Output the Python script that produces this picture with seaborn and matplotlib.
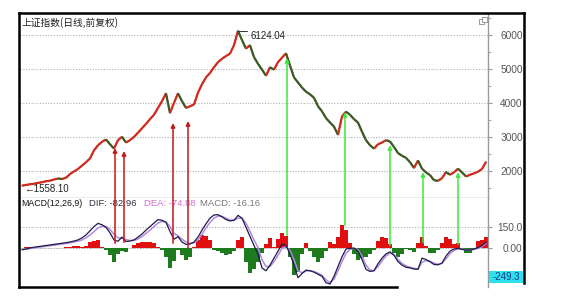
import matplotlib
matplotlib.use("Agg")
import matplotlib.pyplot as plt
import seaborn as sns
import numpy as np
import pandas as pd
from matplotlib.collections import LineCollection
from matplotlib.patches import Rectangle, ConnectionPatch
from matplotlib.ticker import MultipleLocator
from matplotlib.lines import Line2D

sns.set_theme(style="white")
plt.rcParams['font.family'] = ['Liberation Sans', 'DejaVu Sans', 'Noto Sans CJK SC']

# ---------------- data ----------------
title = "上证指数(日线,前复权)"
price = [1558.1, 1580, 1600, 1615, 1640, 1660, 1690, 1705, 1740, 1770,
         1755, 1790, 1900, 1980, 2050, 2150, 2250, 2360, 2600, 2750,
         2850, 2920, 2780, 2650, 2900, 3000, 2830, 2900, 3000, 3120,
         3250, 3380, 3520, 3650, 3850, 4050, 4280, 3700, 4000, 4280,
         4050, 3850, 3900, 3950, 4300, 4550, 4750, 4880, 5050, 5200,
         5300, 5380, 5450, 5700, 6124.04, 5850, 5600, 5700, 5350, 5150,
         4980, 4800, 5050, 4980, 5200, 5330, 5460, 5100, 4750, 4600,
         4450, 4330, 4250, 4150, 3900, 3750, 3550, 3420, 3300, 3060,
         3600, 3740, 3650, 3520, 3420, 3150, 2900, 2750, 2650, 2780,
         2830, 2900, 2860, 2700, 2520, 2440, 2380, 2250, 2080, 2300,
         2060, 1950, 1870, 1720, 1700, 1780, 1960, 1880, 1950, 2060,
         1950, 1830, 1880, 1920, 1970, 2050, 2260]
dif = [-10, -5, 3, 8, 12, 16, 20, 24, 28, 32,
       36, 40, 45, 52, 60, 75, 95, 125, 155, 178,
       168, 150, 110, 60, 50, 80, 48, 52, 60, 80,
       102, 130, 155, 180, 205, 200, 185, 120, 65, 83,
       45, 28, 30, 45, 80, 130, 175, 215, 238, 240,
       225, 205, 195, 200, 235, 215, 150, 85, 20, -40,
       -140, -160, -120, -70, -20, 30, 20, -40, -120, -210,
       -180, -155, -160, -170, -185, -200, -245, -255, -200, -130,
       -60, -5, 0, 2, -20, -80, -150, -165, -160, -110,
       -70, -40, -25, -50, -95, -120, -135, -140, -148, -150,
       -70, -80, -96, -115, -118, -105, -55, -20, -5, 0,
       -8, -12, -12, -5, 5, 20, 45]
dea = [-8, -6, -2, 3, 7, 11, 15, 19, 23, 27,
       31, 35, 39, 45, 51, 60, 75, 95, 120, 145,
       158, 155, 135, 100, 75, 72, 62, 56, 56, 66,
       84, 106, 130, 155, 180, 192, 188, 155, 105, 90,
       65, 45, 36, 38, 60, 100, 145, 185, 215, 230,
       228, 215, 202, 200, 215, 215, 180, 120, 60, 5,
       -80, -130, -130, -95, -50, 0, 12, -15, -80, -160,
       -175, -162, -160, -165, -178, -192, -225, -245, -220, -160,
       -95, -35, -8, 0, -10, -55, -120, -155, -160, -130,
       -90, -55, -35, -42, -80, -108, -125, -135, -143, -148,
       -100, -88, -92, -106, -114, -108, -75, -38, -15, -4,
       -6, -10, -11, -8, 0, 12, 35]
hist = [5, 8, 6, 4, 3, 2, 0, 2, 3, 2,
        4, 6, 8, 14, 15, 12, 20, 45, 55, 59,
        10, -10, -50, -96, -40, -20, -24, 5, 25, 40,
        47, 45, 47, 40, 10, -10, -60, -143, -90, -10,
        -50, -83, -60, 10, 60, 95, 90, 60, -10, -20,
        -30, -48, -40, -20, 60, 83, -100, -178, -150, -100,
        -30, 30, 71, 10, 70, 107, 90, -60, -190, -170,
        -40, 41, -20, -60, -96, -70, -20, 47, 30, 80,
        166, 130, 40, -40, -83, -70, -60, -40, -10, 50,
        83, 71, 30, -30, -60, -40, -5, -10, -24, 40,
        83, 20, -36, -30, -10, 40, 83, 70, 30, 36,
        -10, -36, -30, -5, 50, 60, 83]
price_ticks = [2000, 3000, 4000, 5000, 6000]
macd_ticks = [0, 150]
macd_tick_labels = ["0.00", "150.0"]
low_label = "1558.10"
peak_label = "6124.04"
macd_title = "MACD(12,26,9)"
dif_label = "DIF: -82.96"
dea_label = "DEA: -74.88"
macd_label = "MACD: -16.16"
cursor_label = "-249.3"
# divergence arrows: (time index, price at tip, MACD at base)
red_idx = [23.25, 25.5, 37.75, 41.5]
red_top = [2667, 2578, 3404, 3463]
red_base = [36, 43, 36, 0]
green_idx = [66.25, 80.75, 92, 100.25, 109]
green_top = [5322, 3729, 2755, 1958, 1958]
green_base = [93, 164, 21, 40, 30]

# ---------------- figure ----------------
W, H = 565, 299
fig = plt.figure(figsize=(W / 100, H / 100), dpi=100)
fig.patch.set_facecolor("white")

def fx(px):
    return px / W

def fy(py):
    return 1 - py / H

ax1 = fig.add_axes([fx(20), fy(198), fx(488) - fx(20), fy(13) - fy(198)])
ax2 = fig.add_axes([fx(20), fy(287), fx(488) - fx(20), fy(198) - fy(287)])

idx = np.arange(len(price))
df = pd.DataFrame({"t": idx, "price": price, "dif": dif, "dea": dea, "hist": hist})

# price line (up red / down dark green)
sns.lineplot(data=df, x="t", y="price", ax=ax1, color="#4a5a2a", lw=1.0, zorder=2)
pts = np.column_stack([idx, price])
segs = np.stack([pts[:-1], pts[1:]], axis=1)
cols = ["#d42a1e" if price[i + 1] >= price[i] else "#3c5a23" for i in range(len(price) - 1)]
ax1.add_collection(LineCollection(segs, colors=cols, linewidths=1.6, zorder=3))

ax1.set_xlim(-0.5, len(price) - 0.5)
ax1.set_ylim(1195, 6649)
ax1.set_yticks(price_ticks)
ax1.set_yticklabels([str(t) for t in price_ticks])
ax1.yaxis.tick_right()
ax1.yaxis.set_minor_locator(MultipleLocator(500))
ax1.tick_params(axis="y", which="major", length=3, width=0.8, color="#999999", pad=22,
                labelsize=7.3, labelcolor="#555555", right=True, left=False)
ax1.tick_params(axis="y", which="minor", length=2, width=0.6, color="#999999", right=True, left=False)
for lbl in ax1.get_yticklabels():
    lbl.set_horizontalalignment("right")
ax1.set_xticks([])
ax1.set_xlabel("")
ax1.set_ylabel("")
ax1.grid(axis="y", which="major", linestyle=(0, (1, 1.5)), color="#b0b0b0", lw=0.8)
ax1.grid(axis="x", visible=False)
for s in ["left", "top"]:
    ax1.spines[s].set_visible(False)
for s in ["right", "bottom"]:
    ax1.spines[s].set_color("#999999")
    ax1.spines[s].set_linewidth(1.0)

ax1.text(0.004, 0.951, title, transform=ax1.transAxes, fontsize=7, ha="left", va="center",
         color="#222222", family=["Noto Sans CJK SC", "DejaVu Sans"])

pk = int(np.argmax(price))
ax1.annotate(peak_label, xy=(pk, price[pk]), xytext=(9, -4), textcoords="offset points",
             fontsize=7, ha="left", va="center", color="#222222",
             arrowprops=dict(arrowstyle="-", color="#333333", lw=0.7, shrinkA=0, shrinkB=0,
                             connectionstyle="angle,angleA=90,angleB=0,rad=0"))
ax1.annotate("\u2190" + low_label, xy=(0, price[0]), xytext=(1.5, -2.5), textcoords="offset points",
             fontsize=7, ha="left", va="center", color="#222222",
             family=["Liberation Sans", "DejaVu Sans"])

# MACD panel
ax2.axhline(0, color="#b0b0b0", lw=0.6, linestyle=(0, (1, 1.5)), zorder=1)
bar_cols = ["#e01010" if h >= 0 else "#1d7a1d" for h in hist]
ax2.bar(idx, hist, width=1.02, color=bar_cols, linewidth=0, zorder=2)
sns.lineplot(data=df, x="t", y="dea", ax=ax2, color="#b487e0", lw=1.1, zorder=3)
sns.lineplot(data=df, x="t", y="dif", ax=ax2, color="#1c1c4a", lw=0.9, zorder=4)
ax2.set_xlim(-0.5, len(price) - 0.5)
ax2.set_ylim(-276, 359)
ax2.set_yticks(macd_ticks)
ax2.set_yticklabels(macd_tick_labels)
ax2.yaxis.tick_right()
ax2.tick_params(axis="y", which="major", length=3, width=0.8, color="#999999", pad=22,
                labelsize=7.3, labelcolor="#555555", right=True, left=False)
for lbl in ax2.get_yticklabels():
    lbl.set_horizontalalignment("right")
ax2.set_xticks([])
ax2.set_xlabel("")
ax2.set_ylabel("")
ax2.grid(axis="y", which="major", linestyle=(0, (1, 1.5)), color="#b0b0b0", lw=0.8)
ax2.grid(axis="x", visible=False)
for s in ["left", "top", "bottom"]:
    ax2.spines[s].set_visible(False)
ax2.spines["right"].set_color("#999999")
ax2.spines["right"].set_linewidth(1.0)

ty = 0.933
fs = 6.8
ax2.text(0.002, ty, macd_title, transform=ax2.transAxes, fontsize=6.3, color="#111111", va="center")
ax2.text(0.147, ty, dif_label, transform=ax2.transAxes, fontsize=fs, color="#333344", va="center")
ax2.text(0.265, ty, dea_label, transform=ax2.transAxes, fontsize=fs, color="#d070d0", va="center")
ax2.text(0.385, ty, macd_label, transform=ax2.transAxes, fontsize=fs, color="#777777", va="center")

# divergence arrows
for xi, top, base in zip(red_idx, red_top, red_base):
    cp = ConnectionPatch(xyA=(xi, base), coordsA=ax2.transData, xyB=(xi, top), coordsB=ax1.transData,
                         arrowstyle="-|>", color="#c41818", lw=1.1, mutation_scale=6,
                         shrinkA=0, shrinkB=0, zorder=10)
    fig.add_artist(cp)
for xi, top, base in zip(green_idx, green_top, green_base):
    cp = ConnectionPatch(xyA=(xi, base), coordsA=ax2.transData, xyB=(xi, top), coordsB=ax1.transData,
                         arrowstyle="-|>", color="#3ee83e", lw=1.1, mutation_scale=6,
                         shrinkA=0, shrinkB=0, zorder=10)
    fig.add_artist(cp)

# cursor value box
fig.add_artist(Rectangle((fx(489), fy(283)), fx(523) - fx(489), fy(271) - fy(283),
                         transform=fig.transFigure, facecolor="#2ee0ee", edgecolor="none", zorder=5))
fig.text(fx(506), fy(277), cursor_label, fontsize=7, color="#1a3a8a", ha="center", va="center", zorder=6)

# restore icon
for (x0, y0) in [(479, 24), (481.5, 21.5)]:
    fig.add_artist(Rectangle((fx(x0), fy(y0)), fx(5), 5 / H, transform=fig.transFigure,
                             facecolor="white", edgecolor="#999999", lw=0.7, zorder=6))

# outer frame
frame_kw = dict(color="black", lw=1.8, transform=fig.transFigure, zorder=20, solid_capstyle="projecting")
fig.add_artist(Line2D([fx(19), fx(524)], [fy(13), fy(13)], **frame_kw))
fig.add_artist(Line2D([fx(19), fx(19)], [fy(13), fy(287)], **frame_kw))
fig.add_artist(Line2D([fx(524), fx(524)], [fy(13), fy(283)], **frame_kw))
fig.add_artist(Line2D([fx(19), fx(397)], [fy(287), fy(287)], **frame_kw))

fig.savefig("out.png", dpi=100, facecolor="white")
